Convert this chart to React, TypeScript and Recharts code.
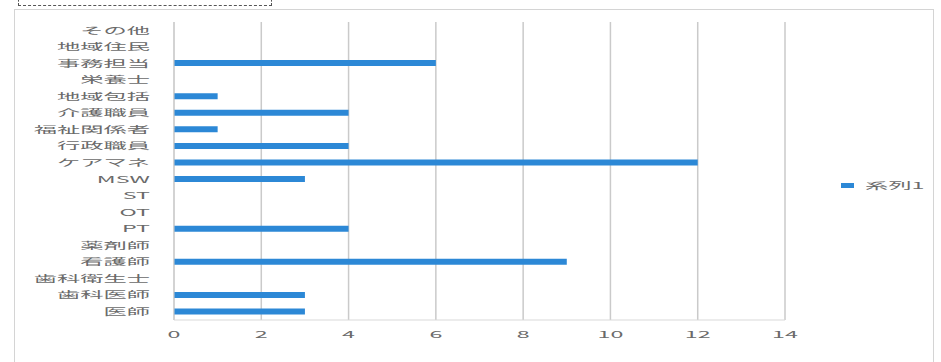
import { Bar, BarChart, CartesianGrid, Legend, XAxis, YAxis } from "recharts"

// categories listed top to bottom as they appear in the chart
const categories = [
  "その他",
  "地域住民",
  "事務担当",
  "栄養士",
  "地域包括",
  "介護職員",
  "福祉関係者",
  "行政職員",
  "ケアマネ",
  "MSW",
  "ST",
  "OT",
  "PT",
  "薬剤師",
  "看護師",
  "歯科衛生士",
  "歯科医師",
  "医師",
]
const series1 = [0, 0, 6, 0, 1, 4, 1, 4, 12, 3, 0, 0, 4, 0, 9, 0, 3, 3]
const xTicks = [0, 2, 4, 6, 8, 10, 12, 14]
const seriesName = "系列1"

const data = categories.map((name, i) => ({ name, value: series1[i] }))

const BLUE = "#2c88d6"
const TEXT = "#6a6a6a"
const STRETCH = 2.45
const FONT = 9.5

function CatTick(props: any) {
  const { x, y, payload } = props
  return (
    <g transform={`translate(${x},${y})`}>
      <text transform={`scale(${STRETCH},1)`} textAnchor="end" dy="0.35em" fill={TEXT} fontSize={FONT}>
        {payload.value}
      </text>
    </g>
  )
}

function NumTick(props: any) {
  const { x, y, payload } = props
  return (
    <g transform={`translate(${x},${y})`}>
      <text transform={`scale(${STRETCH},1)`} textAnchor="middle" dy="0.71em" fill={TEXT} fontSize={FONT}>
        {payload.value}
      </text>
    </g>
  )
}

function LegendBox() {
  return (
    <div style={{ display: "flex", alignItems: "center", height: 14 }}>
      <div style={{ width: 13, height: 5, background: BLUE, marginRight: 11 }} />
      <span
        style={{
          display: "inline-block",
          fontSize: FONT,
          color: TEXT,
          transform: `scaleX(${STRETCH})`,
          transformOrigin: "left center",
          whiteSpace: "nowrap",
          lineHeight: "14px",
        }}
      >
        {seriesName}
      </span>
    </div>
  )
}

export default function App() {
  return (
    <div
      style={{
        position: "absolute",
        left: 0,
        top: 0,
        width: 941,
        height: 362,
        overflow: "hidden",
        background: "#fff",
        fontFamily: "'Noto Sans CJK JP', sans-serif",
      }}
    >
      <div
        style={{
          position: "absolute",
          left: 14,
          top: 9,
          width: 918,
          height: 380,
          border: "1px solid #d4d4d4",
        }}
      />
      <div
        style={{
          position: "absolute",
          left: 18,
          top: -10,
          width: 252,
          height: 14,
          border: "1px dashed #555",
        }}
      />
      <div style={{ position: "absolute", left: 0, top: 0 }}>
        <BarChart
          width={941}
          height={362}
          data={data}
          layout="vertical"
          margin={{ top: 22, right: 156, bottom: 0, left: 0 }}
        >
          <CartesianGrid horizontal={false} stroke="#cacaca" strokeWidth={1.5} />
          <XAxis
            type="number"
            domain={[0, 14]}
            ticks={xTicks}
            height={28}
            tickLine={false}
            tickSize={0}
            tickMargin={11}
            axisLine={{ stroke: "#d9d9d9" }}
            tick={<NumTick />}
          />
          <YAxis
            type="category"
            dataKey="name"
            width={174}
            interval={0}
            tickLine={false}
            tickSize={0}
            tickMargin={24}
            axisLine={{ stroke: "#cfcfcf" }}
            tick={<CatTick />}
          />
          <Legend
            content={() => <LegendBox />}
            wrapperStyle={{ position: "absolute", left: 841, top: 178, width: 95 }}
          />
          <Bar dataKey="value" name={seriesName} fill={BLUE} barSize={6} isAnimationActive={false} />
        </BarChart>
      </div>
    </div>
  )
}
